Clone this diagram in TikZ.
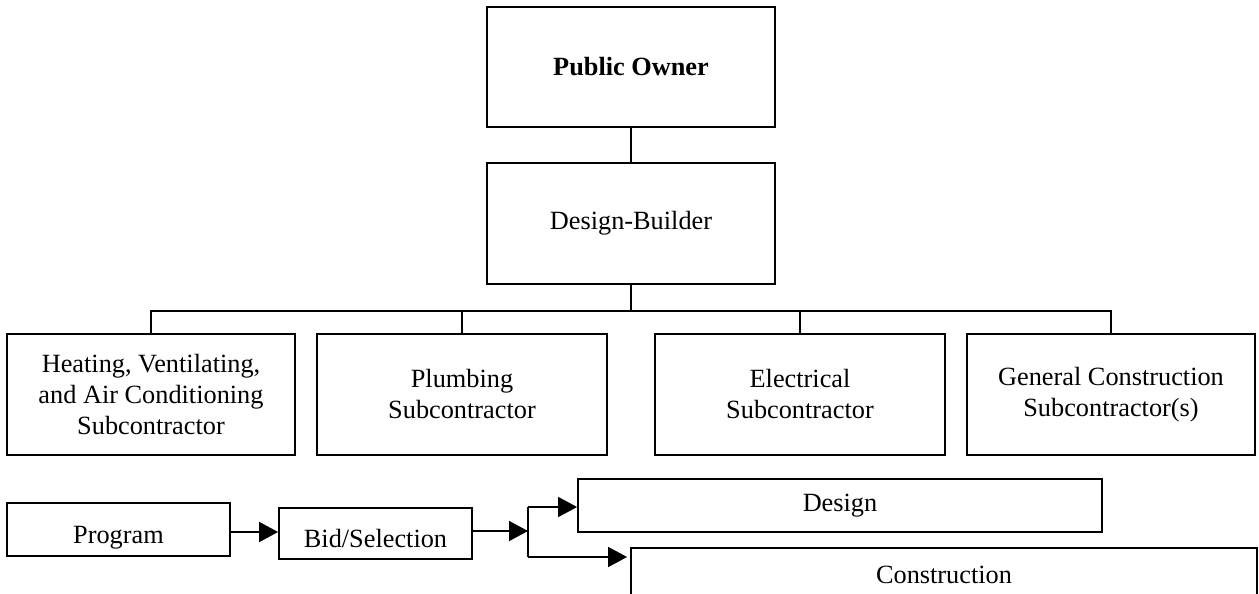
\documentclass[tikz,border=0pt]{standalone}
\usepackage{fontspec}
\setmainfont{Liberation Serif}
\usetikzlibrary{arrows.meta}
\begin{document}
\begin{tikzpicture}[x=1pt,y=-1pt,
  box/.style={draw,line width=1.8pt,inner sep=0pt,align=center,
    font=\fontsize{26.3}{31}\selectfont},
  lowtext/.style={text height=27pt,text depth=0pt},
  link/.style={line width=1.6pt},
  arr/.style={line width=1.6pt,-{Triangle[length=19pt,width=20pt]}}]
\clip (0,0) rectangle (1259,594);

% organisation chart
\node[box,font=\fontsize{26.3}{31}\selectfont\bfseries,
  minimum width=288pt,minimum height=120pt] (owner) at (631,67) {Public Owner};
\node[box,minimum width=288pt,minimum height=121pt] (builder) at (631,223.5) {Design-Builder};
\node[box,minimum width=288pt,minimum height=121pt] (hvac) at (151,394.5)
  {Heating, Ventilating,\\and Air Conditioning\\Subcontractor};
\node[box,minimum width=290pt,minimum height=121pt] (plumb) at (462,394.5)
  {Plumbing\\Subcontractor};
\node[box,minimum width=290pt,minimum height=121pt] (elec) at (800,394.5)
  {Electrical\\Subcontractor};
\node[box,minimum width=288pt,minimum height=121pt] (general) at (1111,394.5)
  {General Construction\\Subcontractor(s)};

\coordinate (bus) at (631,311);
\draw[link] (owner.south) -- (builder.north);
\draw[link] (builder.south) -- (bus);
\draw[link] (hvac.north) -- (hvac.north |- bus) -- (general.north |- bus) -- (general.north);
\draw[link] (plumb.north) -- (plumb.north |- bus);
\draw[link] (elec.north) -- (elec.north |- bus);

% project phases
\node[box,lowtext,minimum width=223pt,minimum height=53pt] (program) at (118.5,529.5) {Program};
\node[box,lowtext,minimum width=193pt,minimum height=51pt] (bid) at (375.5,533.5) {Bid/Selection};
\node[box,minimum width=524pt,minimum height=53pt] (design) at (840,505.5) {Design};
\node[box,minimum width=626pt,minimum height=53pt] (cons) at (944,574.5) {Construction};

\coordinate (rowA) at (0,532);
\coordinate (split) at (528,531);
\coordinate (sTop) at (528,507);
\coordinate (sBot) at (528,557);
\draw[arr] (program.east |- rowA) -- (bid.west |- rowA);
\draw[arr] (bid.east |- split) -- (split);
\draw[link] (sTop) -- (sBot);
\draw[arr] (sTop) -- (design.west |- sTop);
\draw[arr,shorten >=3pt] (sBot) -- (cons.west |- sBot);
\end{tikzpicture}
\end{document}
